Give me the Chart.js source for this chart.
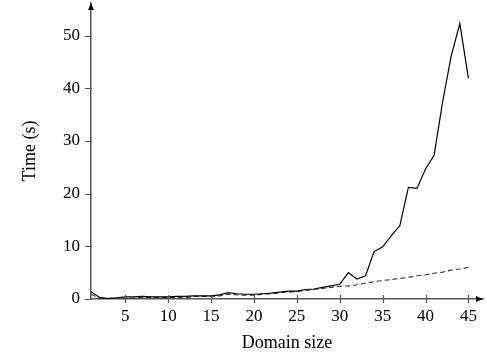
<!DOCTYPE html>
<html>
<head>
<meta charset="utf-8">
<script src="https://cdn.jsdelivr.net/npm/chart.js@4/dist/chart.umd.min.js"></script>
<style>
  html, body { margin: 0; padding: 0; background: #fff; }
  #wrap { width: 487px; height: 358px; }
</style>
</head>
<body>
<div id="wrap"><canvas id="graph-section"></canvas></div>
<script>
const ctx = document.getElementById("graph-section").getContext("2d");

let domainSizes = [];
for (let i = 1; i <= 45; i++) domainSizes.push(i);

let solidTimes = [
  1.4, 0.3, 0.1, 0.2, 0.4, 0.4, 0.5, 0.4, 0.4, 0.4,
  0.5, 0.5, 0.6, 0.6, 0.6, 0.8, 1.2, 1.0, 0.9, 0.9,
  1.0, 1.1, 1.3, 1.5, 1.5, 1.8, 1.9, 2.2, 2.5, 2.8,
  5.0, 3.8, 4.4, 9.0, 9.9, 12.0, 13.9, 21.2, 21.0, 24.7,
  27.3, 37.5, 46.2, 52.3, 41.9,
];
let dashedTimes = [
  0.9, 0.1, 0.0, 0.0, 0.1, 0.2, 0.3, 0.3, 0.3, 0.3,
  0.3, 0.2, 0.5, 0.5, 0.5, 0.6, 0.9, 0.8, 0.7, 0.7,
  0.9, 1.0, 1.2, 1.3, 1.4, 1.6, 1.8, 2.0, 2.2, 2.4,
  2.5, 2.7, 3.0, 3.3, 3.5, 3.7, 3.9, 4.1, 4.4, 4.6,
  4.9, 5.1, 5.5, 5.7, 6.0,
];
let xTicks = [5, 10, 15, 20, 25, 30, 35, 40, 45];
let yTicks = [0, 10, 20, 30, 40, 50];

const axisColor = "#555";
const serif = "'Liberation Serif', 'DejaVu Serif', serif";

function toPoints(values) {
  let pts = [];
  for (let i = 0; i < values.length; i++) {
    pts.push({ x: domainSizes[i], y: values[i] });
  }
  return pts;
}

// tick marks crossing the x axis, and arrow heads on both axes
const axisDecor = {
  id: "axisDecor",
  afterDraw(chart) {
    const c = chart.ctx;
    const xs = chart.scales.x;
    const ys = chart.scales.y;
    const area = chart.chartArea;
    c.save();
    c.strokeStyle = axisColor;
    c.fillStyle = "#000";
    c.lineWidth = 1.2;
    c.beginPath();
    xTicks.forEach((v) => {
      const px = Math.round(xs.getPixelForValue(v)) + 0.5;
      c.moveTo(px, area.bottom - 4);
      c.lineTo(px, area.bottom + 4);
    });
    yTicks.forEach((v) => {
      const py = Math.round(ys.getPixelForValue(v)) + 0.5;
      c.moveTo(area.left - 6, py);
      c.lineTo(area.left + 1, py);
    });
    c.stroke();
    // arrows
    c.beginPath();
    c.moveTo(area.right, area.bottom);
    c.lineTo(area.right - 7, area.bottom - 3);
    c.lineTo(area.right - 7, area.bottom + 3);
    c.closePath();
    c.fill();
    c.beginPath();
    c.moveTo(area.left, area.top);
    c.lineTo(area.left - 3, area.top + 7);
    c.lineTo(area.left + 3, area.top + 7);
    c.closePath();
    c.fill();
    c.restore();
  },
};

let config = {
  type: "line",
  data: {
    datasets: [
      {
        label: "solid",
        data: toPoints(solidTimes),
        borderColor: "#000",
        borderWidth: 1.2,
        pointRadius: 0,
        fill: false,
        tension: 0,
      },
      {
        label: "dashed",
        data: toPoints(dashedTimes),
        borderColor: "#333",
        borderWidth: 1.1,
        borderDash: [5, 3],
        pointRadius: 0,
        fill: false,
        tension: 0,
      },
    ],
  },
  options: {
    responsive: true,
    maintainAspectRatio: false,
    animation: false,
    layout: { padding: { left: 8, right: 4, top: 3, bottom: 0 } },
    plugins: { legend: { display: false }, tooltip: { enabled: false } },
    scales: {
      x: {
        type: "linear",
        min: 1,
        max: 46.7,
        afterBuildTicks: (scale) => {
          scale.ticks = xTicks.map((v) => ({ value: v }));
        },
        afterFit: (scale) => {
          scale.height = 59;
          scale.paddingLeft = 0;
          scale.paddingRight = 0;
        },
        grid: { display: false, drawTicks: false, tickLength: 0 },
        border: { display: true, color: axisColor, width: 1.5 },
        ticks: {
          color: "#000",
          padding: 7,
          maxRotation: 0,
          font: { family: serif, size: 17 },
        },
        title: {
          display: true,
          text: "Domain size",
          color: "#000",
          font: { family: serif, size: 18 },
          padding: { top: 0, bottom: 4 },
        },
      },
      y: {
        min: 0,
        max: 56.2,
        afterBuildTicks: (scale) => {
          scale.ticks = yTicks.map((v) => ({ value: v }));
        },
        afterFit: (scale) => {
          scale.width = 83;
          scale.paddingTop = 0;
          scale.paddingBottom = 0;
        },
        grid: { display: false, drawTicks: false, tickLength: 0 },
        border: { display: true, color: axisColor, width: 1.5 },
        ticks: {
          color: "#000",
          padding: 11,
          font: { family: serif, size: 17 },
        },
        title: {
          display: true,
          text: "Time (s)",
          color: "#000",
          font: { family: serif, size: 18 },
          padding: { top: 11, bottom: 0 },
        },
      },
    },
  },
  plugins: [axisDecor],
};
let myChart = new Chart(ctx, config);
</script>
</body>
</html>
